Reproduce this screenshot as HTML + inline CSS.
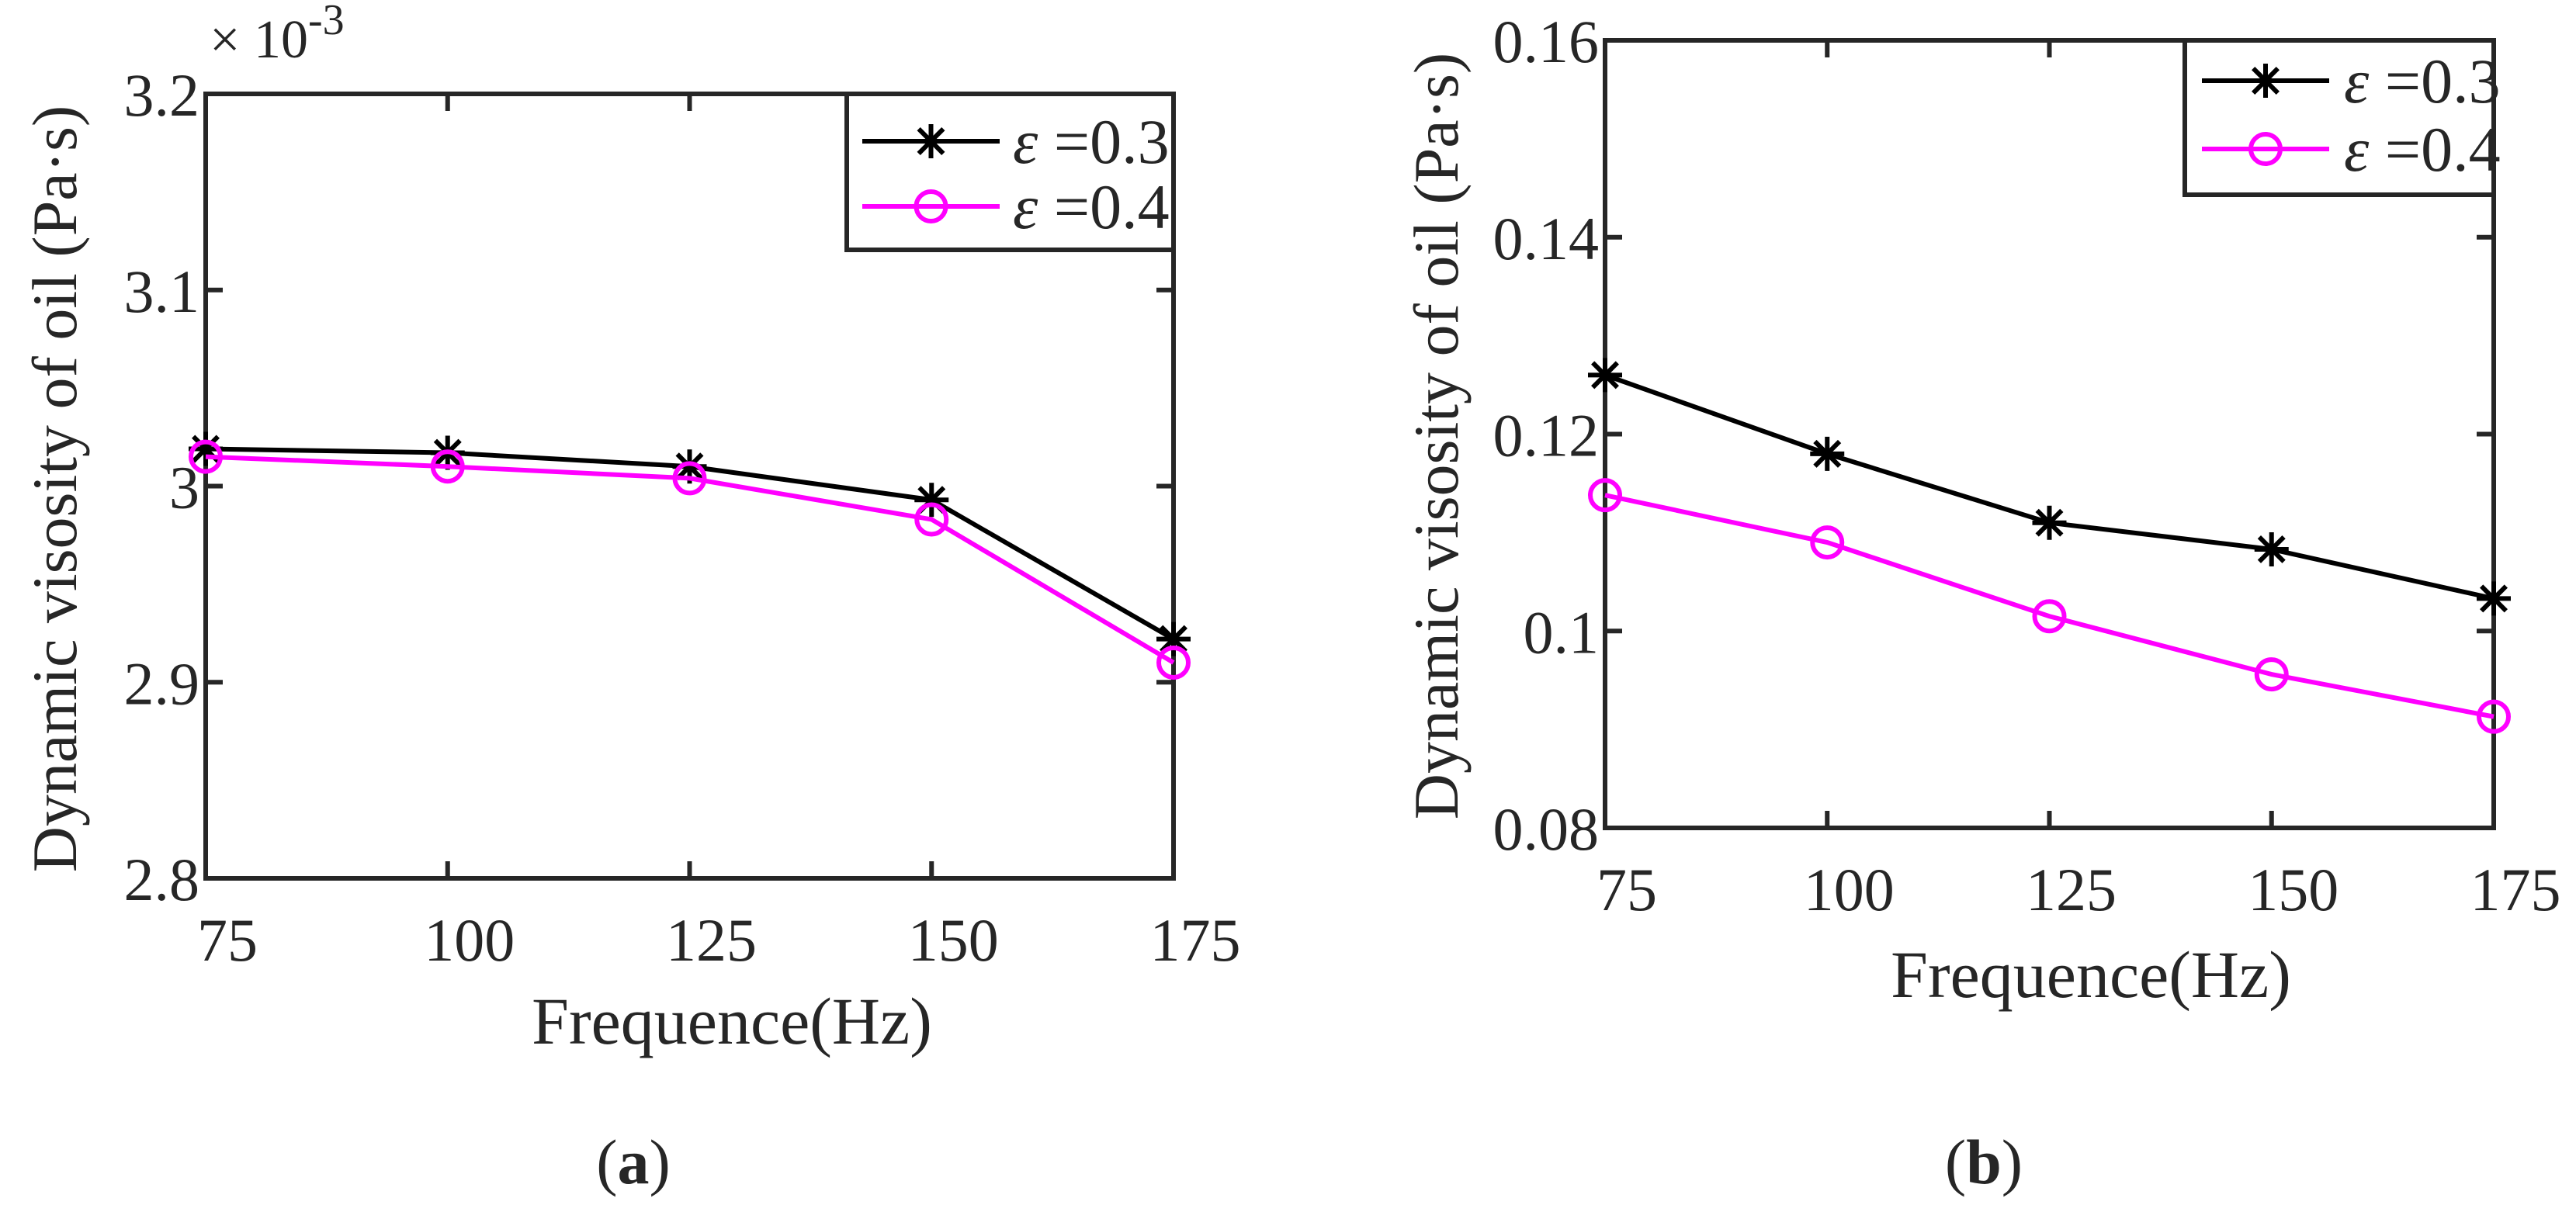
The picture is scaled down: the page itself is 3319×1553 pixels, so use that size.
<!DOCTYPE html>
<html><head><meta charset="utf-8"><style>
html,body{margin:0;padding:0;background:#fff}
svg{display:block}
text{font-family:"Liberation Serif",serif;fill:#262626}
</style></head><body>
<svg id="fig" width="3319" height="1553" viewBox="0 0 3319 1553" xmlns="http://www.w3.org/2000/svg"></svg>
<script>
const freqs=[75,100,125,150,175];
const aEps03=[3.019,3.017,3.010,2.993,2.922];
const aEps04=[3.015,3.010,3.004,2.983,2.910];
const bEps03=[0.126,0.118,0.111,0.1083,0.1033];
const bEps04=[0.1138,0.109,0.1015,0.0956,0.0913];
const aYTicks=[2.8,2.9,3.0,3.1,3.2];
const aYLabels=["2.8","2.9","3","3.1","3.2"];
const bYTicks=[0.08,0.10,0.12,0.14,0.16];
const bYLabels=["0.08","0.1","0.12","0.14","0.16"];
const xTicks=[75,100,125,150,175];
const xLabels=["75","100","125","150","175"];

const NS="http://www.w3.org/2000/svg";
const svg=document.getElementById('fig');
function el(tag,attrs,parent,txt){const e=document.createElementNS(NS,tag);for(const k in attrs)e.setAttribute(k,attrs[k]);if(txt!==undefined)e.textContent=txt;(parent||svg).appendChild(e);return e;}

function panel(cfg){
  const g=el('g',{});
  
  
  const X=v=>cfg.L+(v-cfg.xmin)/(cfg.xmax-cfg.xmin)*(cfg.R-cfg.L);
  const Y=v=>cfg.B-(v-cfg.ymin)/(cfg.ymax-cfg.ymin)*(cfg.B-cfg.T);
  cfg.yt.forEach((v,i)=>{
    const y=Y(v);
    const t=el('line',{x1:cfg.L,x2:cfg.L+22,y1:y,y2:y,stroke:'#262626','stroke-width':6},g);
    
    
    const t2=el('line',{x1:cfg.R,x2:cfg.R-22,y1:y,y2:y,stroke:'#262626','stroke-width':6},g);
    
    
    const lb=el('text',{x:cfg.L-8,y:y+28,'font-size':78,'text-anchor':'end'},g,cfg.yl[i]);
    
    
  });
  xTicks.forEach((v,i)=>{
    const x=X(v);
    const t=el('line',{x1:x,x2:x,y1:cfg.B,y2:cfg.B-22,stroke:'#262626','stroke-width':6},g);
    
    
    const t2=el('line',{x1:x,x2:x,y1:cfg.T,y2:cfg.T+22,stroke:'#262626','stroke-width':6},g);
    
    
    const lb=el('text',{x:x+28,y:cfg.B+cfg.xlOff,'font-size':78,'text-anchor':'middle'},g,xLabels[i]);
    
    
  });
  const box=el('rect',{x:cfg.L,y:cfg.T,width:cfg.R-cfg.L,height:cfg.B-cfg.T,fill:'none',stroke:'#262626','stroke-width':6},g);
  
  
  function series(vals,color,marker,nm){
    const pts=vals.map((v,i)=>X(freqs[i])+','+Y(v)).join(' ');
    const pl=el('polyline',{points:pts,fill:'none',stroke:color,'stroke-width':6},g);
    
    
    vals.forEach((v,i)=>drawMarker(g,X(freqs[i]),Y(v),marker,color,nm+'-point'));
  }
  series(cfg.s1,'#000','star','series-eps-0.3');
  series(cfg.s2,'#ff00ff','circle','series-eps-0.4');
  const lg=el('g',{},g);
  
  
  const lr=el('rect',{x:cfg.lg.x,y:cfg.lg.y,width:cfg.lg.w,height:cfg.lg.h,fill:'#fff',stroke:'#262626','stroke-width':6},lg);
  
  
  [['#000','star','0.3',cfg.lg.y1],['#ff00ff','circle','0.4',cfg.lg.y2]].forEach(([c,m,lbl,y])=>{
    const e=el('g',{},lg);
    
    
    el('line',{x1:cfg.lg.lx1,x2:cfg.lg.lx2,y1:y,y2:y,stroke:c,'stroke-width':6},e);
    drawMarker(e,(cfg.lg.lx1+cfg.lg.lx2)/2,y,m,c,'legend-marker');
    const t=el('text',{x:cfg.lg.tx,y:y+28,'font-size':82},e);
    el('tspan',{'font-style':'italic'},t,'ε');
    el('tspan',{},t,' =');
    el('tspan',{},t,lbl);
  });
  const yl=el('text',{x:0,y:0,'font-size':82,'text-anchor':'middle',transform:`translate(${cfg.ylx},${cfg.yly}) rotate(-90)`},g,'Dynamic visosity of oil (Pa·s)');
  
  
  const xl=el('text',{x:cfg.xlx,y:cfg.xly,'font-size':86,'text-anchor':'middle'},g,'Frequence(Hz)');
  
  
  const cap=el('text',{x:cfg.capx,y:1525,'font-size':82,'text-anchor':'middle'},g);
  el('tspan',{},cap,'(');
  el('tspan',{'font-weight':'bold'},cap,cfg.cap);
  el('tspan',{},cap,')');
  
  
  return g;
}
function drawMarker(parent,x,y,m,c,nm){
  let e;
  if(m==='circle'){
    e=el('circle',{cx:x,cy:y,r:19,fill:'none',stroke:c,'stroke-width':6},parent);
  }else{
    e=el('g',{stroke:c,'stroke-width':6},parent);
    const r=22;
    el('line',{x1:x,x2:x,y1:y-r,y2:y+r},e);
    el('line',{x1:x-r,x2:x+r,y1:y,y2:y},e);
    el('line',{x1:x-r*0.72,x2:x+r*0.72,y1:y-r*0.72,y2:y+r*0.72},e);
    el('line',{x1:x-r*0.72,x2:x+r*0.72,y1:y+r*0.72,y2:y-r*0.72},e);
  }
  
  
}
panel({name:'panel-a',L:265,R:1512,T:121,B:1132,xmin:75,xmax:175,ymin:2.8,ymax:3.2,
  yt:aYTicks,yl:aYLabels,s1:aEps03,s2:aEps04,xlOff:106,
  lg:{x:1091,y:121,w:421,h:201,y1:182,y2:266,lx1:1111,lx2:1288,tx:1305},
  ylx:98,yly:630,xlx:943,xly:1345,capx:816,cap:'a'});
panel({name:'panel-b',L:2068,R:3213,T:52,B:1067,xmin:75,xmax:175,ymin:0.08,ymax:0.16,
  yt:bYTicks,yl:bYLabels,s1:bEps03,s2:bEps04,xlOff:106,
  lg:{x:2815,y:52,w:398,h:199,y1:104,y2:192,lx1:2837,lx2:3001,tx:3020},
  ylx:1878,yly:562,xlx:2694,xly:1285,capx:2556,cap:'b'});
const mult=el('text',{x:270,y:74,'font-size':70},svg,'× 10');


el('tspan',{dy:-30,'font-size':56},mult,'-3');
</script>
</body></html>
